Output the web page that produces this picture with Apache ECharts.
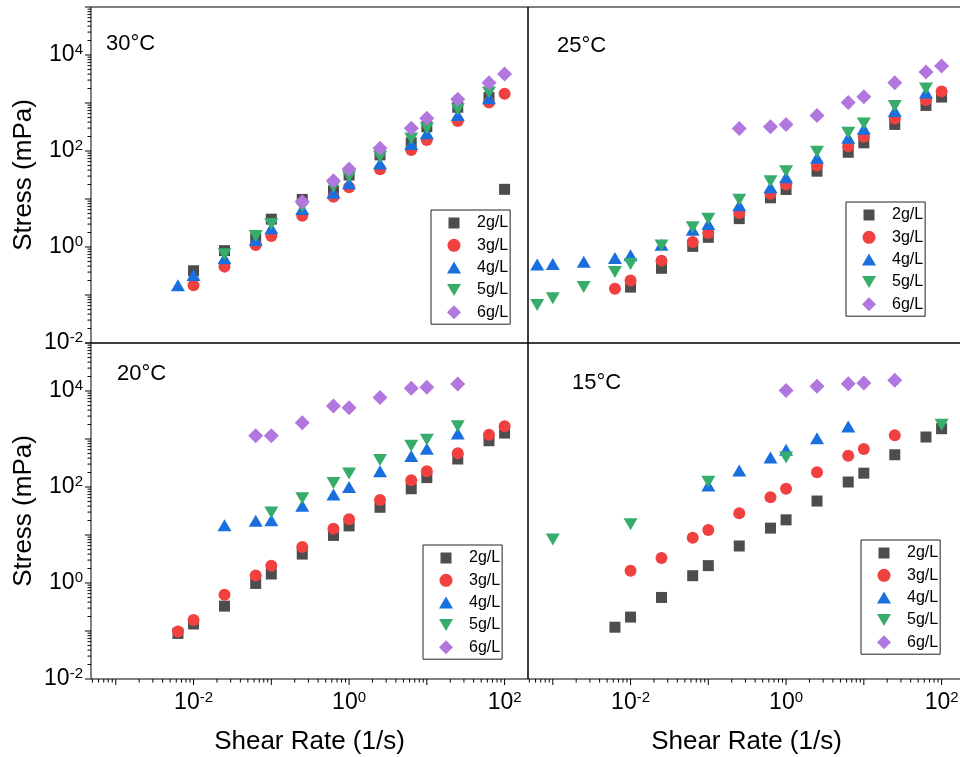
<!DOCTYPE html>
<html><head><meta charset="utf-8">
<script src="https://cdn.jsdelivr.net/npm/echarts@6/dist/echarts.min.js"></script>
<style>html,body{margin:0;padding:0;background:#fff}#c{width:960px;height:757px}</style>
</head><body><div id="c"></div>
<script>
// ---- data ----
const shearRate = [0.00063, 0.001, 0.0025, 0.0063, 0.01, 0.025, 0.063, 0.1, 0.25, 0.63, 1, 2.5, 6.3, 10, 25, 63, 100];
const concLabels = ['2g/L', '3g/L', '4g/L', '5g/L', '6g/L'];
const panelTitles = ['30°C', '25°C', '20°C', '15°C'];
const xLabelExponents = [-2, 0, 2];
const yLabelExponents = [-2, 0, 2, 4];
const xMajorExponents = [-3, -2, -1, 0, 1, 2];
const yMajorExponents = [-2, -1, 0, 1, 2, 3, 4, 5];
const minorMultipliers = [2, 3, 4, 5, 6, 7, 8, 9];

const s30_2 = [null, null, null, null, 0.32, 0.84, 1.5, 3.8, 9.8, 14.8, 31.6, 83, 148, 320, 815, 1300, 15.9];
const s30_3 = [null, null, null, null, 0.16, 0.39, 1.1, 1.7, 4.5, 11.2, 17.5, 41.5, 105, 170, 420, 1020, 1550];
const s30_4 = [null, null, null, 0.16, 0.26, 0.58, 1.4, 2.45, 6.2, 13.5, 21.3, 55, 140, 234, 560, 1260, null];
const s30_5 = [null, null, null, null, null, 0.71, 1.7, 3.0, 6.9, 18, 29, 76, 183, 298, 740, 1660, null];
const s30_6 = [null, null, null, null, null, null, null, null, 8.8, 24, 42, 114, 298, 480, 1200, 2650, 4000];

const s25_2 = [null, null, null, null, 0.146, 0.36, 1.03, 1.59, 3.9, 10.6, 15.8, 38, 94, 148, 358, 890, 1330];
const s25_3 = [null, null, null, 0.135, 0.2, 0.52, 1.27, 1.96, 5.1, 12.9, 20, 49.7, 126, 199, 477, 1150, 1730];
const s25_4 = [0.43, 0.44, 0.49, 0.59, 0.67, 1.12, 2.3, 3.0, 7.4, 17.5, 28.3, 72, 189, 290, 680, 1650, null];
const s25_5 = [0.062, 0.086, 0.146, 0.30, 0.44, 1.08, 2.57, 3.9, 9.7, 23.4, 38, 96, 240, 375, 865, 2000, null];
const s25_6 = [null, null, null, null, null, null, null, null, 295, 320, 358, 550, 1020, 1350, 2650, 4400, 5900];

const s20_2 = [null, null, null, 0.089, 0.14, 0.33, 0.98, 1.54, 4.0, 9.8, 15.5, 37.8, 92, 157, 383, 920, 1330];
const s20_3 = [null, null, null, 0.098, 0.17, 0.57, 1.43, 2.3, 5.6, 13.5, 21.4, 53.8, 138, 214, 504, 1230, 1850];
const s20_4 = [null, null, null, null, null, 15.9, 19.7, 20.3, 40.8, 69.8, 100, 214, 444, 623, 1300, null, null];
const s20_5 = [null, null, null, null, null, null, null, 29.5, 58.5, 121, 191, 365, 720, 970, 1850, null, null];
const s20_6 = [null, null, null, null, null, null, 1170, 1170, 2180, 4880, 4500, 7300, 11400, 11900, 14000, null, null];

const s15_2 = [null, null, null, 0.12, 0.195, 0.5, 1.42, 2.3, 5.9, 13.9, 20.7, 51, 127, 194, 470, 1100, 1640];
const s15_3 = [null, null, null, null, 1.8, 3.3, 8.8, 12.7, 28.5, 61.5, 92, 204, 448, 620, 1190, null, null];
const s15_4 = [null, null, null, null, null, null, null, 107, 221, 412, 598, 1040, 1830, null, null, null, null];
const s15_5 = [null, 8.1, null, null, 16.8, null, null, 129, null, null, 412, null, null, null, null, null, 1990];
const s15_6 = [null, null, null, null, null, null, null, null, null, null, 10300, 12500, 14100, 14700, 16700, null, null];

// ---- styling ----
const FONT = 'Liberation Sans, Arial, Helvetica, sans-serif';
const colors = ['#4d4d4d', '#F14040', '#1A6FDF', '#37AD6B', '#B177DE'];
const symbols = ['rect', 'circle', 'triangle', 'path://M0,0L14,0L7,12Z', 'diamond'];
const symbolSizes = [11, 12, [14, 12], [14, 12], [15, 15]];
const legendIcons = [
  'path://M0,0L0,0M14,14L14,14M1.5,1.5L12.5,1.5L12.5,12.5L1.5,12.5Z',
  'path://M0,0L0,0M14,14L14,14M7,0.5A6.5,6.5,0,1,1,7,13.5A6.5,6.5,0,1,1,7,0.5Z',
  'path://M0,0L0,0M14,14L14,14M7,1L14,13L0,13Z',
  'path://M0,0L0,0M14,14L14,14M0,1L14,1L7,13Z',
  'path://M7,0L14,7L7,14L0,7Z'
];

const X_MIN = 4.8e-4, X_MAX = 200, Y_MIN = 1e-2, Y_MAX = 1e5;
const panelData = [
  [s30_2, s30_3, s30_4, s30_5, s30_6],
  [s25_2, s25_3, s25_4, s25_5, s25_6],
  [s20_2, s20_3, s20_4, s20_5, s20_6],
  [s15_2, s15_3, s15_4, s15_5, s15_6]
];
const gridBoxes = [
  {left: 91, top: 7, width: 437, height: 336},
  {left: 528, top: 7, width: 437, height: 336},
  {left: 91, top: 343, width: 437, height: 336},
  {left: 528, top: 343, width: 437, height: 336}
];
const legendPos = [[431, 210], [846, 202], [423, 545], [861, 540]];
const titlePos = [[106, 33], [557, 35], [117, 363], [572, 372]];

function powFormatter(shown) {
  return function (v) {
    const l = Math.log10(v);
    const e = Math.round(l);
    if (Math.abs(l - e) > 1e-6 || shown.indexOf(e) < 0) return '';
    return '{b|10}{s|' + (e < 0 ? '-' + (-e) : e) + '}';
  };
}
const labelRich = {
  b: {fontSize: 23, fontFamily: FONT, color: '#000', lineHeight: 26},
  s: {fontSize: 15, fontFamily: FONT, color: '#000', verticalAlign: 'top', lineHeight: 15}
};

const grids = gridBoxes.map(g => Object.assign({show: true, borderColor: '#000', borderWidth: 1, containLabel: false, outerBoundsMode: 'none'}, g));

const xAxes = gridBoxes.map((g, i) => ({
  type: 'log', logBase: 10, gridIndex: i, min: X_MIN, max: X_MAX,
  axisLine: {show: false}, axisTick: {show: false}, splitLine: {show: false}, minorTick: {show: false},
  axisLabel: {show: i >= 2, margin: 11, formatter: powFormatter(xLabelExponents), rich: labelRich},
  name: i >= 2 ? 'Shear Rate (1/s)' : '', nameLocation: 'middle', nameGap: 50,
  nameTextStyle: {fontSize: 26, fontFamily: FONT, color: '#000'}
}));
const yAxes = gridBoxes.map((g, i) => ({
  type: 'log', logBase: 10, gridIndex: i, min: Y_MIN, max: Y_MAX,
  axisLine: {show: false}, axisTick: {show: false}, splitLine: {show: false}, minorTick: {show: false},
  axisLabel: {show: i % 2 === 0, margin: 8, formatter: powFormatter(yLabelExponents), rich: labelRich},
  name: i % 2 === 0 ? 'Stress (mPa)' : '', nameLocation: 'middle', nameGap: 54,
  nameTextStyle: {fontSize: 26, fontFamily: FONT, color: '#000'}
}));

const series = [];
panelData.forEach((arrs, gi) => {
  arrs.forEach((arr, ci) => {
    const pts = [];
    arr.forEach((v, k) => { if (v != null) pts.push([shearRate[k], v]); });
    series.push({
      type: 'scatter', name: concLabels[ci], xAxisIndex: gi, yAxisIndex: gi,
      symbol: symbols[ci], symbolSize: symbolSizes[ci],
      itemStyle: {color: colors[ci], opacity: 1}, data: pts, z: 2 + ci
    });
  });
});

// axis ticks (major + log minor), drawn through the axis scales
function tickValues(majorExps, lo, hi) {
  const out = [];
  majorExps.forEach(e => out.push([Math.pow(10, e), 6]));
  for (let e = -5; e <= 5; e++) minorMultipliers.forEach(m => {
    const v = m * Math.pow(10, e);
    if (v > lo && v < hi) out.push([v, 3.5]);
  });
  return out;
}
const xTicks = tickValues(xMajorExponents, X_MIN, X_MAX).filter(t => t[0] >= X_MIN && t[0] <= X_MAX);
const yTicks = tickValues(yMajorExponents, Y_MIN, Y_MAX).filter(t => t[0] >= Y_MIN && t[0] <= Y_MAX);
[2, 3].forEach(gi => series.push({
  type: 'custom', xAxisIndex: gi, yAxisIndex: gi, silent: true, clip: false, z: 20,
  data: xTicks.map(t => [t[0], Y_MIN, t[1]]),
  renderItem: (p, api) => {
    const c = api.coord([api.value(0), api.value(1)]);
    const len = api.value(2);
    return {type: 'line', shape: {x1: c[0], y1: c[1], x2: c[0], y2: c[1] + len}, style: {stroke: '#000', lineWidth: 1}};
  }
}));
[0, 2].forEach(gi => series.push({
  type: 'custom', xAxisIndex: gi, yAxisIndex: gi, silent: true, clip: false, z: 20,
  data: yTicks.map(t => [X_MIN, t[0], t[1]]),
  renderItem: (p, api) => {
    const c = api.coord([api.value(0), api.value(1)]);
    const len = api.value(2);
    return {type: 'line', shape: {x1: c[0] - len, y1: c[1], x2: c[0], y2: c[1]}, style: {stroke: '#000', lineWidth: 1}};
  }
}));

const legends = legendPos.map(p => ({
  orient: 'vertical', left: p[0], top: p[1], itemWidth: 36, itemHeight: 14, itemGap: 6.3,
  padding: [5, 2, 4, 16], borderColor: '#222', borderWidth: 1, selectedMode: false,
  textStyle: {fontSize: 16, color: '#000', fontFamily: FONT},
  data: concLabels.map((n, i) => ({name: n, icon: legendIcons[i]}))
}));

const titles = panelTitles.map((t, i) => ({
  text: t, left: titlePos[i][0], top: titlePos[i][1], padding: 0,
  textStyle: {fontSize: 22, fontWeight: 'normal', color: '#000', fontFamily: FONT}
}));

const chart = echarts.init(document.getElementById('c'), null, {renderer: 'canvas'});
chart.setOption({
  animation: false, backgroundColor: '#fff',
  title: titles, legend: legends, grid: grids, xAxis: xAxes, yAxis: yAxes, series: series
});
</script></body></html>
